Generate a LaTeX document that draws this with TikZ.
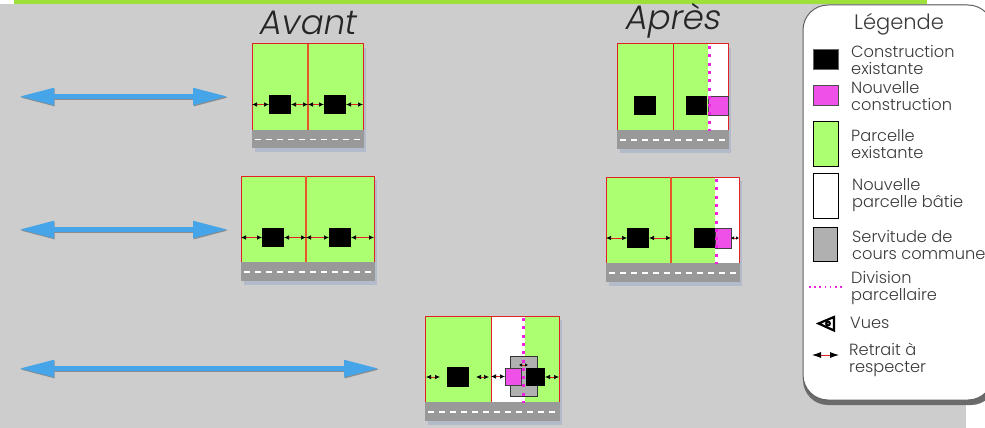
\documentclass[tikz,border=0pt]{standalone}
\usepackage{fontspec}
\setmainfont{Poppins Light}
\newfontfamily\titlefont[FakeSlant=0.18]{Poppins Light}
\usetikzlibrary{arrows.meta,calc}
\definecolor{bggray}{HTML}{CDCDCD}
\definecolor{topgreen}{HTML}{9EE03B}
\definecolor{parcel}{HTML}{ADFF72}
\definecolor{roadgray}{HTML}{999999}
\definecolor{shade}{HTML}{B3BBCB}
\definecolor{redline}{HTML}{E02222}
\definecolor{divline}{HTML}{E8552A}
\definecolor{newb}{HTML}{EE50E8}
\definecolor{dotm}{HTML}{F020E0}
\definecolor{cc}{HTML}{B0B0B0}
\definecolor{bluearrow}{HTML}{45A5E8}
\definecolor{txt}{HTML}{3A3A3A}
\tikzset{
  box/.style={anchor=north west,inner sep=0pt,outer sep=0pt},
  shadebox/.style={box,fill=shade},
  parcelbox/.style={box,fill=parcel,draw=redline,line width=1pt},
  roadbox/.style={box,fill=roadgray},
  existing/.style={box,fill=black},
  newbuild/.style={box,fill=newb,draw=black!75,line width=0.9pt},
  courbox/.style={box,fill=cc,draw=black!80,line width=1pt},
  legblack/.style={box,fill=black,draw=black!60,line width=0.6pt},
  legnew/.style={box,fill=newb,draw=black!70,line width=0.8pt},
  leggreen/.style={box,fill=parcel,draw=black,line width=0.8pt},
  legwhite/.style={box,fill=white,draw=black,line width=0.8pt},
  leggray/.style={box,fill=cc,draw=black,line width=0.8pt},
  retrait/.style={draw=redline,line width=0.7pt,{Latex[black,length=5pt,width=4.5pt]}-{Latex[black,length=5pt,width=4.5pt]}},
  retraitshort/.style={draw=redline,line width=0.6pt,{Latex[black,length=3pt,width=3.5pt]}-{Latex[black,length=3pt,width=3.5pt]}},
  dashroad/.style={draw=white,line width=1.2pt,dash pattern=on 6pt off 5pt},
  divdots/.style={draw=dotm,line width=3pt,dash pattern=on 3pt off 5.3pt},
  divider/.style={draw=divline,line width=1.2pt},
  bigarrowshadow/.style={draw=black!45,line width=5pt,{Triangle[length=35pt,width=16pt,fill=black!45]}-{Triangle[length=35pt,width=16pt,fill=black!45]},transform canvas={xshift=0.7pt,yshift=-1.1pt}},
  bigarrow/.style={draw=bluearrow,line width=5pt,{Triangle[length=35pt,width=16pt,fill=bluearrow]}-{Triangle[length=35pt,width=16pt,fill=bluearrow]}},
  legtxt/.style={anchor=west,inner sep=0pt,text=txt,font=\fontsize{16.2}{17}\selectfont,align=left},
  titletxt/.style={inner sep=0pt,text=black!85,font=\titlefont\fontsize{34}{36}\selectfont},
}
\newcommand{\bx}[6]{\node[#1,minimum width={((#5)-(#3))*1pt},minimum height={((#6)-(#4))*1pt}] (#2) at (#3,#4) {};}
\newcommand{\panelshadow}[6]{\bx{shadebox}{#1s}{#2+3}{#3+4}{#4+3}{#6+4}}
\newcommand{\panelroad}[6]{%
  \bx{roadbox}{#1r}{#2-0.5}{#5-0.6}{#4+0.5}{#6}
  \coordinate (#1a) at (#2+3,{(#5+#6)/2});
  \coordinate (#1b) at (#4-3,{(#5+#6)/2});
  \draw[dashroad] (#1a) -- (#1b);
}
\newcommand{\bigarr}[4]{%
  \coordinate (#1l) at (#2,#4);
  \coordinate (#1r) at (#3,#4);
  \draw[bigarrowshadow] (#1l) -- (#1r);
  \draw[bigarrow] (#1l) -- (#1r);
}
\begin{document}
\begin{tikzpicture}[x=1pt,y=-1pt]
\useasboundingbox (0,0) rectangle (985,428);
\fill[white] (0,0) rectangle (985,428);
\bx{box,fill=bggray}{bg}{0}{4}{966}{428}
\bx{box,fill=topgreen}{bar}{14}{0}{927}{4.5}

\node[titletxt] (avant) at (307,23) {Avant};
\node[titletxt] (apres) at (672,21) {Après};

\bigarr{ar1}{19}{228}{96.5}
\bigarr{ar2}{19}{228}{229.5}
\bigarr{ar3}{19}{379}{368.5}

% Panel 1
\panelshadow{A}{252}{44}{363}{131}{148}
\bx{parcelbox}{A1}{252}{44}{308}{131}
\bx{parcelbox}{A2}{308}{44}{363}{131}
\draw[divider] (A1.north east) -- (A1.south east);
\panelroad{A}{252}{44}{363}{131}{148}
\bx{existing}{Ab1}{269}{95}{291}{114}
\bx{existing}{Ab2}{324}{95}{346}{114}
\draw[retrait] (A1.west |- Ab1) -- (Ab1);
\draw[retrait] (Ab1) -- (A1.east |- Ab1);
\draw[retrait] (A2.west |- Ab2) -- (Ab2);
\draw[retrait] (Ab2) -- (A2.east |- Ab2);

% Panel 2
\panelshadow{B}{617}{44}{728}{131}{149}
\bx{parcelbox}{B1}{617}{44}{673}{131}
\bx{parcelbox}{B2}{673}{44}{728}{131}
\fill[white] (707.5,44.5) rectangle (727.5,131);
\panelroad{B}{617}{44}{728}{131}{149}
\bx{existing}{Bb1}{634}{96}{656}{115}
\bx{existing}{Bb2}{686}{96}{707}{115}
\bx{newbuild}{Bn}{708}{96}{728}{115}
\coordinate (Bt) at (709,46);
\coordinate (Bu) at (709,131);
\draw[divdots] (Bt) -- (Bu);

% Panel 3
\panelshadow{C}{241}{176}{374}{263}{281}
\bx{parcelbox}{C1}{241}{176}{306}{263}
\bx{parcelbox}{C2}{306}{176}{374}{263}
\draw[divider] (C1.north east) -- (C1.south east);
\panelroad{C}{241}{176}{374}{263}{281}
\bx{existing}{Cb1}{262}{228}{284}{247}
\bx{existing}{Cb2}{329}{228}{351}{247}
\draw[retrait] (C1.west |- Cb1) -- (Cb1);
\draw[retrait] (Cb1) -- (C1.east |- Cb1);
\draw[retrait] (C2.west |- Cb2) -- (Cb2);
\draw[retrait] (Cb2) -- (C2.east |- Cb2);

% Panel 4
\panelshadow{D}{606}{177}{739}{264}{282}
\bx{parcelbox}{D1}{606}{177}{671}{264}
\bx{parcelbox}{D2}{671}{177}{739}{264}
\draw[divider] (D1.north east) -- (D1.south east);
\fill[white] (715,177.5) rectangle (738.5,264);
\panelroad{D}{606}{177}{739}{264}{282}
\bx{existing}{Db1}{627}{228}{649}{248}
\bx{existing}{Db2}{694}{228}{715}{248}
\bx{newbuild}{Dn}{715}{228}{731}{248}
\coordinate (Dt) at (716,179);
\coordinate (Du) at (716,264);
\draw[divdots] (Dt) -- (Du);
\draw[retrait] (D1.west |- Db1) -- (Db1);
\draw[retrait] (Db1) -- (D1.east |- Db1);
\draw[retraitshort] (Dn) -- (D2.east |- Dn);

% Panel 5
\panelshadow{E}{425}{316}{559}{403}{421}
\bx{parcelbox}{E1}{425}{316}{491}{403}
\bx{parcelbox}{E2}{491}{316}{559}{403}
\fill[white] (491.5,316.5) rectangle (525,403);
\panelroad{E}{425}{316}{559}{403}{421}
\bx{existing}{Eb1}{447}{367}{469}{387}
\bx{courbox}{Ec}{510}{356}{537}{396}
\bx{newbuild}{En}{505}{368}{521}{385}
\bx{existing}{Eb2}{526}{368}{545}{386}
\coordinate (Et) at (523,318);
\coordinate (Eu) at (523,403);
\draw[divdots] (Et) -- (Eu);
\coordinate (Ep) at (426,377);
\coordinate (Eq) at (440,377);
\coordinate (Er) at (476,377);
\coordinate (Es) at (489,377);
\coordinate (Et1) at (519,365);
\coordinate (Et2) at (528,365);
\draw[retrait] (Ep) -- (Eq);
\draw[retrait] (Er) -- (Es);
\draw[retrait] (E2.west |- En) -- (En);
\draw[retraitshort] (Et1) -- (Et2);
\draw[retrait] (Eb2) -- (E2.east |- Eb2);

% Legend
\fill[black!58,rounded corners=25pt] (803,8) rectangle (996,405);
\draw[black!62,fill=white,line width=1pt,rounded corners=25pt] (803,5) rectangle (993,400);
\node[legtxt,anchor=center,font=\fontsize{21}{24}\selectfont] (lt) at (899,24.5) {Légende};
\bx{legblack}{l1}{813}{49}{838}{69}
\bx{legnew}{l2}{813}{85}{838}{105}
\bx{leggreen}{l3}{813}{121}{838}{166}
\bx{legwhite}{l4}{813}{173}{838}{218}
\bx{leggray}{l5}{813}{227}{837}{261}
\node[legtxt] (t1) at (851,60) {Construction\\existante};
\node[legtxt] (t2) at (851,96) {Nouvelle\\construction};
\node[legtxt] (t3) at (851,144) {Parcelle\\existante};
\node[legtxt] (t4) at (852,195) {Nouvelle\\parcelle bâtie};
\node[legtxt] (t5) at (852,245) {Servitude de\\cours commune};
\node[legtxt] (t6) at (851,288) {Division\\parcellaire};
\node[legtxt] (t7) at (850,323) {Vues};
\node[legtxt] (t8) at (849,360) {Retrait à\\respecter};
\coordinate (d1) at (809,287);
\coordinate (d2) at (845,287);
\draw[draw=dotm,line width=1.4pt,dash pattern=on 1.6pt off 3.6pt] (d1) -- (d2);
\draw[black,line width=2.2pt,fill=white,line join=miter] (818.5,323.5) -- (834,317) -- (834,330.5) -- cycle;
\fill[black] (828,323.5) circle (3);
\fill[gray] (828,323.5) circle (1);
\coordinate (r1) at (812,355);
\coordinate (r2) at (839,355);
\draw[draw=redline,line width=0.8pt,{Latex[black,length=9pt,width=6pt]}-{Latex[black,length=9pt,width=6pt]}] (r1) -- (r2);
\end{tikzpicture}
\end{document}
